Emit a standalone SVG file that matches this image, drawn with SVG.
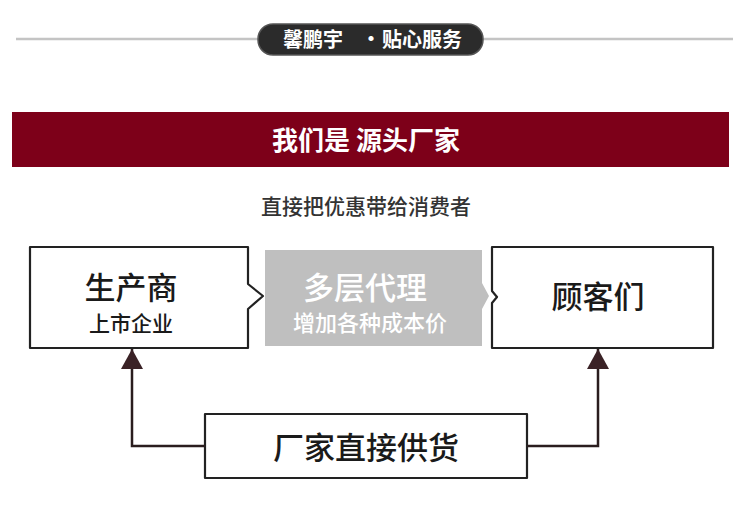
<svg xmlns="http://www.w3.org/2000/svg" width="750" height="514" viewBox="0 0 750 514">
<defs>
<style>
text{font-family:"Noto Sans CJK SC","Noto Sans",sans-serif;text-anchor:middle}
.box{fill:#fff;stroke:#222;stroke-width:2.2;stroke-linejoin:round}
.conn{fill:none;stroke:#2a1d1e;stroke-width:2.5}
.big{font-size:31px;font-weight:500;fill:#1a1a1a}
.small{font-size:21px;font-weight:500;fill:#1a1a1a}
</style>
<marker id="arr" markerUnits="userSpaceOnUse" markerWidth="22" markerHeight="22" viewBox="0 0 20 22" refX="20" refY="11" orient="auto">
<path d="M0,0 L20,11 L0,22 Z" fill="#3a2226"/>
</marker>
</defs>
<rect width="750" height="514" fill="#fff"/>
<g id="header">
<line x1="16" y1="39" x2="733" y2="39" stroke="#c4c4c4" stroke-width="2.5"/>
<rect x="258" y="24" width="225" height="31" rx="15" fill="#2b2b2b" stroke="#555" stroke-width="1.5"/>
<text x="313" y="47" font-size="20" font-weight="700" fill="#fff">馨鹏宇</text>
<text x="371" y="46" font-size="20" font-weight="700" fill="#fff">·</text>
<text x="422" y="47" font-size="20" font-weight="700" fill="#fff">贴心服务</text>
</g>
<g id="banner">
<rect x="12" y="112" width="717" height="55" fill="#7d0019"/>
<text x="366" y="150" font-size="26" font-weight="700" fill="#fff">我们是 源头厂家</text>
</g>
<g id="subtitle">
<text x="366" y="214" font-size="21" font-weight="500" fill="#333">直接把优惠带给消费者</text>
</g>
<g id="producer">
<path class="box" d="M30,247 H248 V284 L263,296 L248,309 V348 H30 Z"/>
<text class="big" x="131" y="299" font-weight="700">生产商</text>
<text class="small" x="131" y="331">上市企业</text>
</g>
<g id="agents">
<path d="M265,250 H482 V283 L489,296 L482,309 V346 H265 Z" fill="#bfbfbf"/>
<text x="365" y="299" font-size="31" font-weight="500" fill="#fff">多层代理</text>
<text x="370" y="331" font-size="22" font-weight="500" fill="#fff">增加各种成本价</text>
</g>
<g id="customers">
<path class="box" d="M492,247 H713 V348 H492 V303 L497,297 L492,291 Z"/>
<text class="big" x="598" y="308">顾客们</text>
</g>
<g id="direct">
<rect class="box" x="205" y="414" width="322" height="64"/>
<text class="big" x="366" y="459">厂家直接供货</text>
</g>
<g id="connectors">
<path class="conn" d="M205,446 H132 V349" marker-end="url(#arr)"/>
<path class="conn" d="M527,446 H598 V349" marker-end="url(#arr)"/>
</g>
</svg>
